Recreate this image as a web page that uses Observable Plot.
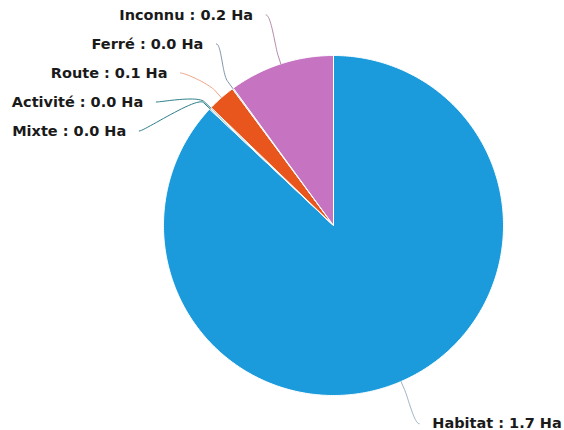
<!DOCTYPE html>
<html>
<head>
<meta charset="utf-8">
<script src="https://cdn.jsdelivr.net/npm/d3@7"></script>
<script src="https://cdn.jsdelivr.net/npm/@observablehq/plot@0.6"></script>
<style>
  html, body { margin: 0; padding: 0; background: #fff; }
  #chart svg { display: block; }
</style>
</head>
<body>
<div id="chart"></div>
<script>
// ---- Data ----
const categories = ["Habitat", "Mixte", "Activité", "Route", "Ferré", "Inconnu"];
const values = [1.70, 0.002, 0.002, 0.052, 0.002, 0.196];
const sliceColors = ["#1b9bdb", "#2d7f88", "#3f8f8c", "#e8561e", "#7f97aa", "#c673c2"];
const connectorColors = ["#9fb2c2", "#2d7f88", "#2d7f88", "#f0a385", "#7f97aa", "#b48aa8"];
const unit = "Ha";

// ---- Layout ----
const W = 564, H = 430;
const cx = 333, cy = 225, r = 170;
const labelDistance = 46, spacing = 29, textPadding = 13, connectorOffset = 9;
const Rl = r + labelDistance;

const data = categories.map((c, i) => ({category: c, value: values[i], color: sliceColors[i], lineColor: connectorColors[i]}));
const arcs = d3.pie().sort(null).value(d => d.value)(data);

// slice polygons in unit-circle coordinates (angle 0 at top, clockwise)
const slices = arcs.map(a => {
  const pts = [{x: 0, y: 0}];
  const n = Math.max(2, Math.ceil((a.endAngle - a.startAngle) / 0.01));
  for (let k = 0; k <= n; k++) {
    const t = a.startAngle + (a.endAngle - a.startAngle) * k / n;
    pts.push({x: Math.sin(t), y: Math.cos(t)});
  }
  pts.push({x: 0, y: 0});
  return {pts, color: a.data.color};
});

// label layout (pixel space), then converted to data units
const labels = arcs.map(a => {
  const m = (a.startAngle + a.endAngle) / 2;
  const sx = Math.sin(m), sy = -Math.cos(m);
  return {arc: a, sx, sy, left: sx < 0, target: cy + sy * Rl};
});

function distribute(items) {
  items.sort((a, b) => a.target - b.target);
  let boxes = items.map(it => ({members: [it], targets: [it.target], size: spacing}));
  let overlapping = true;
  while (overlapping) {
    for (const b of boxes) {
      const mid = (d3.min(b.targets) + d3.max(b.targets)) / 2;
      b.pos = Math.max(0, mid - b.size / 2);
    }
    overlapping = false;
    const merged = [];
    for (const b of boxes) {
      const prev = merged[merged.length - 1];
      if (prev && prev.pos + prev.size > b.pos) {
        prev.members.push(...b.members);
        prev.targets.push(...b.targets);
        prev.size += b.size;
        overlapping = true;
      } else merged.push(b);
    }
    boxes = merged;
  }
  for (const b of boxes) b.members.forEach((m, i) => { m.y = b.pos + spacing * (i + 0.5); });
}
distribute(labels.filter(l => l.left));
distribute(labels.filter(l => !l.left));

const toX = px => (px - cx) / r;
const toY = py => (cy - py) / r;

const fmt = d3.format(".1f");
const textData = [];
const connectors = [];
for (const l of labels) {
  const dy = Math.max(-0.95 * Rl, Math.min(0.95 * Rl, l.y - cy));
  const lx = cx + (l.left ? -1 : 1) * Math.sqrt(Rl * Rl - dy * dy);
  textData.push({
    x: toX(lx + (l.left ? -textPadding : textPadding)),
    y: toY(l.y),
    text: `${l.arc.data.category} : ${fmt(l.arc.data.value)} ${unit}`,
    left: l.left
  });
  // connector: soft curve from label to breakAt, then straight to the slice edge
  const t = {x: cx + l.sx * r, y: cy + l.sy * r};
  const b = {x: t.x + l.sx * connectorOffset, y: t.y + l.sy * connectorOffset};
  const p0 = {x: lx, y: l.y};
  const c1 = {x: lx + (l.left ? 5 : -5), y: l.y};
  const c2 = {x: 2 * b.x - t.x, y: 2 * b.y - t.y};
  const pts = [];
  for (let k = 0; k <= 24; k++) {
    const s = k / 24, u = 1 - s;
    const px = u*u*u*p0.x + 3*u*u*s*c1.x + 3*u*s*s*c2.x + s*s*s*b.x;
    const py = u*u*u*p0.y + 3*u*u*s*c1.y + 3*u*s*s*c2.y + s*s*s*b.y;
    pts.push({x: toX(px), y: toY(py)});
  }
  pts.push({x: toX(t.x), y: toY(t.y)});
  connectors.push({pts, color: l.arc.data.lineColor});
}

const textOpts = {x: "x", y: "y", text: "text", fontSize: 14.5, fontWeight: "bold", fill: "#1a1a1a", lineAnchor: "middle"};

const plot = Plot.plot({
  width: W,
  height: H,
  marginLeft: cx - r,
  marginRight: W - cx - r,
  marginTop: cy - r,
  marginBottom: H - cy - r,
  x: {domain: [-1, 1], axis: null},
  y: {domain: [-1, 1], axis: null},
  style: {background: "#fff", fontFamily: "DejaVu Sans, sans-serif", overflow: "visible"},
  marks: [
    ...slices.map(s => Plot.line(s.pts, {x: "x", y: "y", fill: s.color, stroke: "#ffffff", strokeWidth: 1, strokeLinejoin: "round"})),
    ...connectors.map(c => Plot.line(c.pts, {x: "x", y: "y", stroke: c.color, strokeWidth: 1})),
    Plot.text(textData.filter(d => d.left), {...textOpts, textAnchor: "end"}),
    Plot.text(textData.filter(d => !d.left), {...textOpts, textAnchor: "start"})
  ]
});
document.getElementById("chart").appendChild(plot);
</script>
</body>
</html>
